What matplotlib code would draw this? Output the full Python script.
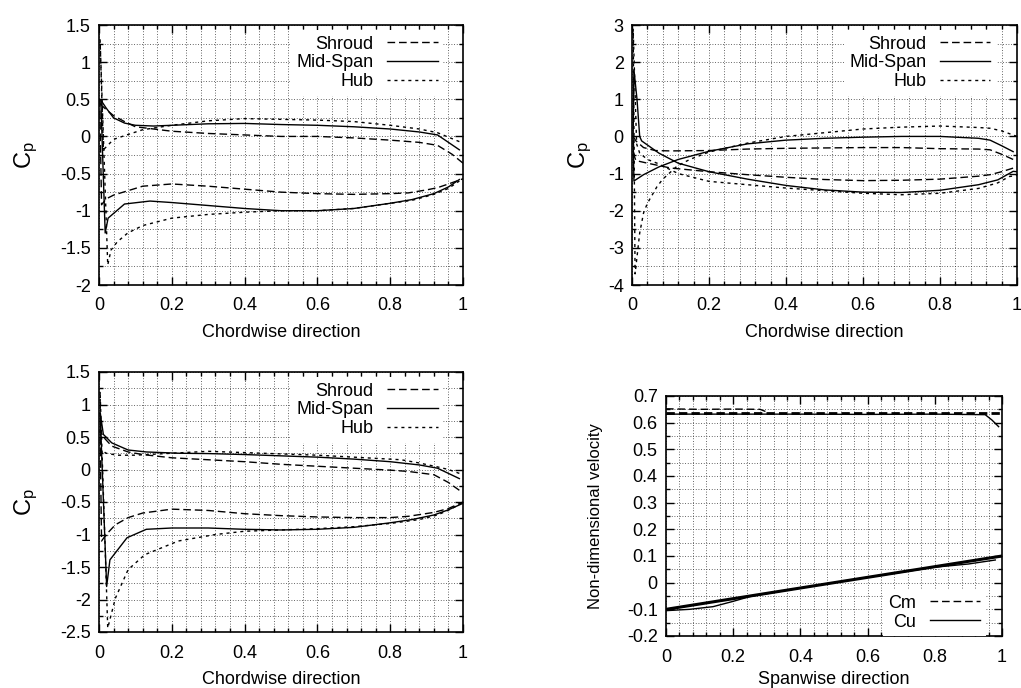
import matplotlib
matplotlib.use("Agg")
import matplotlib.pyplot as plt
from matplotlib.ticker import MultipleLocator, FormatStrFormatter
from matplotlib.lines import Line2D

plt.rcParams['font.family'] = ['Liberation Sans', 'DejaVu Sans']
plt.rcParams['mathtext.fontset'] = 'custom'
plt.rcParams['mathtext.rm'] = 'Liberation Sans'
plt.rcParams['mathtext.it'] = 'Liberation Sans:italic'
plt.rcParams['axes.unicode_minus'] = False

# ---------------- Data: panel 1 (top-left) ----------------
shroud1_x = [1.0, 0.97, 0.93, 0.88, 0.8, 0.7, 0.6, 0.5, 0.4, 0.3, 0.2, 0.15, 0.1, 0.07, 0.04, 0.02, 0.007, 0.002,
             0.007, 0.02, 0.04, 0.08, 0.12, 0.2, 0.3, 0.4, 0.5, 0.6, 0.7, 0.8, 0.85, 0.9, 0.93, 0.96, 1.0]
shroud1_y = [-0.36, -0.24, -0.12, -0.08, -0.05, -0.02, 0.0, 0.0, 0.02, 0.04, 0.07, 0.1, 0.13, 0.2, 0.28, 0.36, 0.42, 0.5,
             -0.92, -0.84, -0.79, -0.73, -0.67, -0.64, -0.67, -0.71, -0.75, -0.77, -0.78, -0.77, -0.76, -0.72, -0.69, -0.64, -0.57]
mid1_x = [0.99, 0.96, 0.93, 0.88, 0.8, 0.7, 0.6, 0.5, 0.4, 0.3, 0.2, 0.15, 0.1, 0.07, 0.04, 0.02, 0.005,
          0.017, 0.025, 0.07, 0.14, 0.2, 0.3, 0.4, 0.5, 0.6, 0.7, 0.8, 0.86, 0.92, 0.96, 0.99]
mid1_y = [-0.18, -0.08, 0.02, 0.06, 0.1, 0.13, 0.15, 0.16, 0.175, 0.17, 0.15, 0.14, 0.15, 0.18, 0.25, 0.38, 0.49,
          -1.30, -1.10, -0.91, -0.87, -0.89, -0.93, -0.97, -1.0, -1.0, -0.97, -0.9, -0.85, -0.77, -0.68, -0.58]
hub1_x = [0.99, 0.96, 0.93, 0.88, 0.8, 0.7, 0.6, 0.5, 0.4, 0.3, 0.2, 0.12, 0.076, 0.04, 0.012, 0.003,
          0.024, 0.033, 0.05, 0.079, 0.12, 0.2, 0.3, 0.4, 0.5, 0.6, 0.7, 0.8, 0.86, 0.92, 0.96, 0.99]
hub1_y = [-0.07, -0.01, 0.05, 0.1, 0.15, 0.2, 0.22, 0.23, 0.24, 0.21, 0.15, 0.09, 0.02, -0.04, -0.18, 1.3,
          -1.73, -1.53, -1.42, -1.30, -1.2, -1.1, -1.05, -1.02, -1.0, -1.0, -0.97, -0.9, -0.86, -0.78, -0.7, -0.6]

# ---------------- Data: panel 2 (top-right) ----------------
shroud2_x = [0.99, 0.96, 0.93, 0.9, 0.8, 0.7, 0.6, 0.5, 0.4, 0.3, 0.2, 0.1, 0.06, 0.03, 0.01, 0.003,
             0.005, 0.01, 0.04, 0.1, 0.2, 0.3, 0.4, 0.5, 0.6, 0.7, 0.8, 0.9, 0.93, 0.96, 1.0]
shroud2_y = [-0.62, -0.48, -0.36, -0.34, -0.33, -0.3, -0.3, -0.31, -0.32, -0.34, -0.38, -0.39, -0.38, -0.3, -0.12, 0.0,
             -0.5, -0.65, -0.72, -0.85, -0.95, -1.03, -1.1, -1.16, -1.19, -1.18, -1.15, -1.07, -1.03, -0.95, -0.82]
mid2_x = [0.99, 0.96, 0.93, 0.9, 0.8, 0.7, 0.6, 0.5, 0.4, 0.3, 0.2, 0.12, 0.07, 0.03, 0.005,
          0.003, 0.005, 0.013, 0.02, 0.025,
          0.07, 0.12, 0.2, 0.3, 0.4, 0.5, 0.6, 0.7, 0.8, 0.9, 0.95, 0.99, 1.0]
mid2_y = [-0.41, -0.25, -0.1, -0.05, 0.0, 0.0, -0.02, -0.05, -0.1, -0.2, -0.4, -0.62, -0.82, -1.03, -1.2,
          0.0, 1.8, 1.0, 0.0, -0.12,
          -0.45, -0.72, -0.95, -1.15, -1.32, -1.44, -1.5, -1.51, -1.45, -1.3, -1.17, -0.94, -0.95]
hub2_x = [1.0, 0.96, 0.93, 0.9, 0.8, 0.7, 0.6, 0.5, 0.4, 0.3, 0.2, 0.15, 0.117, 0.08, 0.065, 0.04, 0.03, 0.02, 0.008,
          0.003,
          0.012, 0.02, 0.04, 0.065, 0.12, 0.2, 0.3, 0.4, 0.5, 0.6, 0.7, 0.8, 0.9, 0.95, 0.98, 1.0]
hub2_y = [0.0, 0.15, 0.22, 0.24, 0.28, 0.25, 0.2, 0.1, 0.0, -0.18, -0.42, -0.62, -0.8, -1.15, -1.35, -1.8, -2.06, -2.6, -3.7,
          2.9,
          -0.2, -0.45, -0.62, -0.72, -1.0, -1.21, -1.3, -1.39, -1.46, -1.53, -1.57, -1.53, -1.4, -1.25, -1.08, -1.05]

# ---------------- Data: panel 3 (bottom-left) ----------------
shroud3_x = [0.99, 0.96, 0.92, 0.85, 0.8, 0.7, 0.6, 0.5, 0.4, 0.3, 0.2, 0.12, 0.08, 0.035, 0.012, 0.003,
             0.007, 0.02, 0.045, 0.08, 0.12, 0.2, 0.3, 0.4, 0.5, 0.6, 0.7, 0.8, 0.85, 0.92, 0.96, 1.0]
shroud3_y = [-0.32, -0.2, -0.08, -0.03, -0.01, 0.02, 0.05, 0.08, 0.12, 0.15, 0.18, 0.23, 0.27, 0.36, 0.5, 0.6,
             -1.1, -1.0, -0.85, -0.74, -0.67, -0.61, -0.63, -0.68, -0.71, -0.73, -0.74, -0.74, -0.72, -0.66, -0.6, -0.5]
mid3_x = [0.99, 0.96, 0.93, 0.88, 0.8, 0.7, 0.6, 0.5, 0.4, 0.3, 0.22, 0.13, 0.08, 0.035, 0.012, 0.003,
          0.021, 0.03, 0.077, 0.13, 0.2, 0.3, 0.4, 0.5, 0.6, 0.7, 0.8, 0.86, 0.92, 0.96, 1.0]
mid3_y = [-0.14, -0.06, 0.02, 0.07, 0.12, 0.16, 0.19, 0.21, 0.23, 0.245, 0.25, 0.27, 0.3, 0.41, 0.54, 0.88,
          -1.8, -1.39, -1.05, -0.92, -0.9, -0.9, -0.92, -0.93, -0.92, -0.89, -0.82, -0.77, -0.7, -0.62, -0.52]
hub3_x = [0.99, 0.96, 0.93, 0.88, 0.83, 0.7, 0.6, 0.5, 0.4, 0.3, 0.2, 0.1, 0.05, 0.02, 0.005, 0.003,
          0.024, 0.045, 0.08, 0.126, 0.218, 0.32, 0.4, 0.5, 0.6, 0.7, 0.8, 0.88, 0.93, 0.97, 1.0]
hub3_y = [-0.06, 0.0, 0.04, 0.1, 0.15, 0.19, 0.22, 0.24, 0.26, 0.28, 0.25, 0.22, 0.22, 0.25, 0.3, 1.2,
          -2.44, -1.98, -1.54, -1.31, -1.1, -1.0, -0.95, -0.93, -0.91, -0.88, -0.83, -0.77, -0.7, -0.6, -0.5]

# ---------------- Data: panel 4 (bottom-right) ----------------
cm_x = [0.0, 0.2, 0.4, 0.6, 0.8, 0.95, 1.0]
cm_y = [0.636, 0.636, 0.636, 0.636, 0.636, 0.636, 0.636]
cm2_x = [0.0, 0.1, 0.2, 0.28, 0.3]
cm2_y = [0.652, 0.65, 0.651, 0.65, 0.64]
cm3_x = [0.0, 0.2, 0.4, 0.6, 0.8, 0.95, 0.97, 0.99]
cm3_y = [0.632, 0.632, 0.632, 0.631, 0.632, 0.63, 0.61, 0.585]
cu_x = [0.0, 0.2, 0.4, 0.6, 0.8, 1.0]
cu_y = [-0.1, -0.06, -0.02, 0.02, 0.06, 0.1]
cu2_x = [0.0, 0.07, 0.14, 0.2, 0.25, 0.4, 0.6, 0.8, 0.9, 0.98]
cu2_y = [-0.105, -0.1, -0.09, -0.07, -0.052, -0.02, 0.02, 0.058, 0.07, 0.085]

W, H = 1021, 688
fig = plt.figure(figsize=(W / 100, H / 100), dpi=100)

FS = 13
LEG_FS = 13


def make_ax(left, right, top, bottom):
    return fig.add_axes([left / W, 1 - bottom / H, (right - left) / W, (bottom - top) / H])


SHROUD_DASH = (0, (5.5, 2.8))
HUB_DASH = (0, (2.2, 2.8))
LW = 1.0


def style_ax(ax, ylo, yhi, ymaj, ymin, xlabel, ylabel, ylabel_fs, ylabel_x, xlabelpad):
    ax.set_xlim(0, 1)
    ax.set_ylim(ylo, yhi)
    ax.xaxis.set_major_locator(MultipleLocator(0.2))
    ax.xaxis.set_minor_locator(MultipleLocator(0.04))
    ax.yaxis.set_major_locator(MultipleLocator(ymaj))
    ax.yaxis.set_minor_locator(MultipleLocator(ymin))
    ax.xaxis.set_major_formatter(FormatStrFormatter('%g'))
    ax.yaxis.set_major_formatter(FormatStrFormatter('%g'))
    ax.tick_params(which='both', direction='in', top=True, right=True, labelsize=FS, width=1.0)
    ax.tick_params(which='major', length=6)
    ax.tick_params(axis='x', which='major', pad=9)
    ax.tick_params(axis='y', which='major', pad=6)
    ax.tick_params(which='minor', length=3)
    ax.grid(True, which='both', color='0.2', linestyle=(0, (1, 2.2)), linewidth=0.6)
    for s in ax.spines.values():
        s.set_linewidth(1.2)
    ax.set_xlabel(xlabel, fontsize=FS, labelpad=xlabelpad)
    ax.set_ylabel(ylabel, fontsize=ylabel_fs)
    ax.yaxis.set_label_coords(ylabel_x, 0.5)
    ax.set_axisbelow(True)


def cp_panel(ax, sx, sy, mx, my, hx, hy):
    ax.plot(sx, sy, color='black', lw=LW, linestyle=SHROUD_DASH, label='Shroud')
    ax.plot(mx, my, color='black', lw=LW, linestyle='-', label='Mid-Span')
    ax.plot(hx, hy, color='black', lw=LW, linestyle=HUB_DASH, label='Hub')
    ax.legend(loc='upper right', bbox_to_anchor=(0.945, 0.98), markerfirst=False, frameon=True,
              fancybox=False, edgecolor='none', facecolor='white', framealpha=1.0,
              fontsize=LEG_FS, handlelength=2.8, handletextpad=0.75, labelspacing=0.1,
              borderpad=0.3, borderaxespad=0.0)


CP_LABEL = r'C$_{\rm p}$'

ax1 = make_ax(99, 463, 25, 285)
style_ax(ax1, -2, 1.5, 0.5, 0.25, 'Chordwise direction', CP_LABEL, 17, -0.162, 7)
cp_panel(ax1, shroud1_x, shroud1_y, mid1_x, mid1_y, hub1_x, hub1_y)

ax2 = make_ax(632, 1017, 25, 285)
style_ax(ax2, -4, 3, 1, 0.5, 'Chordwise direction', CP_LABEL, 17, -0.098, 7)
cp_panel(ax2, shroud2_x, shroud2_y, mid2_x, mid2_y, hub2_x, hub2_y)

ax3 = make_ax(99, 463, 372, 632)
style_ax(ax3, -2.5, 1.5, 0.5, 0.25, 'Chordwise direction', CP_LABEL, 17, -0.162, 7)
cp_panel(ax3, shroud3_x, shroud3_y, mid3_x, mid3_y, hub3_x, hub3_y)

ax4 = make_ax(666, 1002, 396, 636)
style_ax(ax4, -0.2, 0.7, 0.1, 0.05, 'Spanwise direction', 'Non-dimensional velocity', 12, -0.187, 4)
ax4.plot(cm_x, cm_y, color='black', lw=2.0, linestyle=(0, (3.0, 1.5)), label='Cm')
ax4.plot(cm2_x, cm2_y, color='black', lw=LW, linestyle=SHROUD_DASH)
ax4.plot(cm3_x, cm3_y, color='black', lw=LW, linestyle='-')
ax4.plot(cu_x, cu_y, color='black', lw=2.2, linestyle='-', label='Cu')
ax4.plot(cu2_x, cu2_y, color='black', lw=LW, linestyle='-')
h, l = ax4.get_legend_handles_labels()
h = [Line2D([], [], color='black', lw=LW, linestyle=SHROUD_DASH),
     Line2D([], [], color='black', lw=LW, linestyle='-')]
ax4.legend(h, l, loc='lower right', bbox_to_anchor=(0.952, 0.0), markerfirst=False, frameon=True,
           fancybox=False, edgecolor='none', facecolor='white', framealpha=1.0,
           fontsize=LEG_FS, handlelength=2.8, handletextpad=0.75, labelspacing=0.1,
           borderpad=0.3, borderaxespad=0.0)

fig.savefig('out.png', dpi=100)
